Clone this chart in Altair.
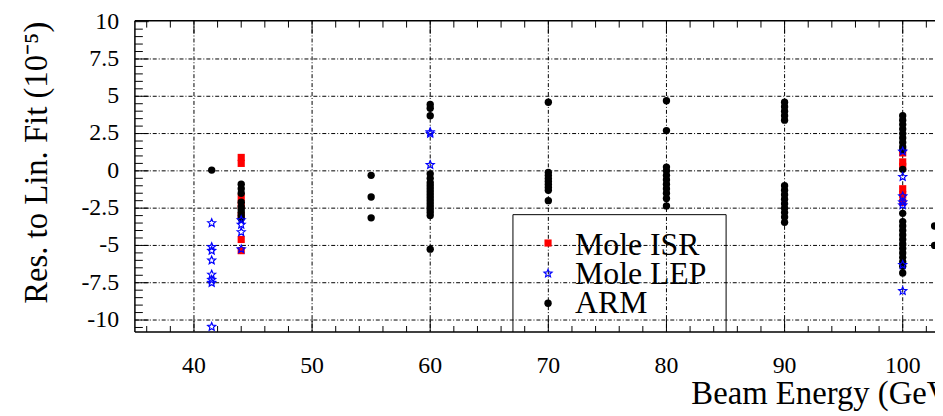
import altair as alt
import pandas as pd

# ---------------- data ----------------
series_names = ["Mole ISR", "Mole LEP", "ARM"]

isr_energy = [44, 44, 44, 44, 44, 44, 44, 100, 100, 100, 100, 100, 100]
isr_res = [0.9, 0.5, -1.8, -2.3, -3.0, -4.6, -5.35, 1.2, 0.6, 0.3, -1.2, -1.6, -2.1]

lep_energy = [41.5, 41.5, 41.5, 41.5, 41.5, 41.5, 41.5, 41.5,
              44, 44, 44, 44,
              60, 60, 60,
              100, 100, 100, 100, 100, 100, 100]
lep_res = [-3.5, -5.1, -5.35, -6.0, -6.95, -7.3, -7.5, -10.45,
           -3.3, -3.6, -4.1, -5.25,
           2.6, 2.5, 0.4,
           1.3, -0.4, -1.7, -2.1, -2.3, -6.3, -8.05]

arm_e415 = [0.05]
arm_e44 = [-0.9, -1.2, -1.5, -2.1, -2.4, -2.6, -2.8, -3.0, -3.2]
arm_e55 = [-0.3, -1.75, -3.15]
arm_e60 = [4.45, 4.2, 3.7, -0.2, -0.5, -0.8, -1.0, -1.2, -1.4, -1.6, -1.8,
           -2.0, -2.2, -2.4, -2.6, -2.8, -3.0, -5.25]
arm_e70 = [4.6, -0.1, -0.3, -0.5, -0.7, -0.9, -1.1, -1.3, -2.0]
arm_e80 = [4.7, 2.7, 0.25, 0.0, -0.3, -0.6, -0.9, -1.2, -1.5, -1.85, -2.35]
arm_e90 = [4.6, 4.3, 4.0, 3.7, 3.4, -1.0, -1.3, -1.6, -1.9, -2.2, -2.5,
           -2.8, -3.1, -3.45]
arm_e100 = [3.7, 3.4, 3.1, 2.8, 2.5, 2.2, 1.9, 1.6, 1.4, 0.1, -2.85, -3.4,
            -3.7, -4.0, -4.3, -4.6, -4.9, -5.2, -5.5, -5.8, -6.1, -6.4, -6.85]
arm_e1027 = [-3.7, -5.0]
arm_energies = [41.5, 44, 55, 60, 70, 80, 90, 100, 102.7]
arm_groups = [arm_e415, arm_e44, arm_e55, arm_e60, arm_e70, arm_e80,
              arm_e90, arm_e100, arm_e1027]

x_ticks = [40, 50, 60, 70, 80, 90, 100]
x_tick_labels = ["40", "50", "60", "70", "80", "90", "100"]
y_ticks = [-10, -7.5, -5, -2.5, 0, 2.5, 5, 7.5, 10]
y_tick_labels = ["-10", "-7.5", "-5", "-2.5", "0", "2.5", "5", "7.5", "10"]
x_minor = [36, 38, 42, 44, 46, 48, 52, 54, 56, 58, 62, 64, 66, 68, 72, 74,
           76, 78, 82, 84, 86, 88, 92, 94, 96, 98, 102]
y_minor = [-10.5, -9.5, -9, -8.5, -8, -7, -6.5, -6, -5.5, -4.5, -4, -3.5,
           -3, -2, -1.5, -1, -0.5, 0.5, 1, 1.5, 2, 3, 3.5, 4, 4.5, 5.5, 6,
           6.5, 7, 8, 8.5, 9, 9.5]

x_title = "Beam Energy (GeV)"
y_title = "Res. to Lin. Fit (10⁻⁵)"

# open five-pointed star as a custom symbol path (unit box -1..1)
STAR = ("M0,-1L0.265,-0.364L0.951,-0.309L0.428,0.139L0.588,0.809L0,0.45"
        "L-0.588,0.809L-0.428,0.139L-0.951,-0.309L-0.265,-0.364Z")

# ---------------- tables ----------------
isr_df = pd.DataFrame({"energy": isr_energy, "res": isr_res})
lep_df = pd.DataFrame({"energy": lep_energy, "res": lep_res})
arm_rows = []
for e, grp in zip(arm_energies, arm_groups):
    for r in grp:
        arm_rows.append({"energy": e, "res": r})
arm_df = pd.DataFrame(arm_rows)

xmaj = pd.DataFrame({"v": x_ticks, "t": x_tick_labels})
xmin = pd.DataFrame({"v": x_minor})
ymaj = pd.DataFrame({"v": y_ticks, "t": y_tick_labels})
ygrid = pd.DataFrame({"v": y_ticks[:-1]})
ymin = pd.DataFrame({"v": y_minor})

W, H = 807, 314
FONT = "Liberation Serif"
PX_PER_GEV = 834 / 70.0

xscale = alt.Scale(domain=[35, 35 + W / PX_PER_GEV], nice=False, zero=False)
yscale = alt.Scale(domain=[-10.8, 10.07], nice=False, zero=False)


def X(field="energy"):
    return alt.X(f"{field}:Q", scale=xscale, axis=None)


def Y(field="res"):
    return alt.Y(f"{field}:Q", scale=yscale, axis=None)


layers = []

# grid (dash-dot)
dash = [4, 2, 1, 2]
layers.append(alt.Chart(xmaj).mark_rule(color="black", strokeWidth=1, strokeDash=dash)
              .encode(x=X("v"), y=alt.value(0), y2=alt.value(H)))
layers.append(alt.Chart(ygrid).mark_rule(color="black", strokeWidth=1, strokeDash=dash)
              .encode(y=Y("v"), x=alt.value(0), x2=alt.value(W)))

# frame (left, top, bottom; the right side lies beyond the window)
frame = pd.DataFrame({"k": [0]})
layers.append(alt.Chart(frame).mark_rule(color="black", strokeWidth=1.5)
              .encode(x=alt.value(0), y=alt.value(0), y2=alt.value(H)))
layers.append(alt.Chart(frame).mark_rule(color="black", strokeWidth=1.5)
              .encode(x=alt.value(0), x2=alt.value(W + 10), y=alt.value(0)))
layers.append(alt.Chart(frame).mark_rule(color="black", strokeWidth=1.5)
              .encode(x=alt.value(0), x2=alt.value(W + 10), y=alt.value(H)))

# ticks (inside the frame)
def tick_layer(data, orient, length):
    base = alt.Chart(data).mark_rule(color="black", strokeWidth=1)
    if orient == "bottom":
        return base.encode(x=X("v"), y=alt.value(H), y2=alt.value(H - length))
    if orient == "top":
        return base.encode(x=X("v"), y=alt.value(0), y2=alt.value(length))
    return base.encode(y=Y("v"), x=alt.value(0), x2=alt.value(length))


layers += [
    tick_layer(xmaj, "bottom", 13), tick_layer(xmin, "bottom", 6),
    tick_layer(xmaj, "top", 13), tick_layer(xmin, "top", 7),
    tick_layer(ymaj, "left", 14), tick_layer(ymin, "left", 8),
]

# tick labels
layers.append(alt.Chart(xmaj).mark_text(font=FONT, fontSize=24, color="black",
                                        align="center", baseline="alphabetic")
              .encode(x=X("v"), y=alt.value(H + 41), text="t:N"))
layers.append(alt.Chart(ymaj).mark_text(font=FONT, fontSize=24, color="black",
                                        align="right", baseline="middle")
              .encode(y=Y("v"), x=alt.value(-16), text="t:N"))

# axis titles
layers.append(alt.Chart(frame).mark_text(font=FONT, fontSize=33, color="black",
                                         align="right", baseline="alphabetic",
                                         text=x_title)
              .encode(x=alt.value(W + 26.6), y=alt.value(H + 73)))
layers.append(alt.Chart(frame).mark_text(font=FONT, fontSize=33, color="black",
                                         align="right", baseline="alphabetic",
                                         angle=270, text=y_title)
              .encode(x=alt.value(-89), y=alt.value(1)))

# data points
layers.append(alt.Chart(isr_df).mark_point(shape="square", filled=True, color="#ff0000",
                                           opacity=1, size=52)
              .encode(x=X(), y=Y()))
layers.append(alt.Chart(arm_df).mark_point(shape="circle", filled=True, color="#000000",
                                           opacity=1, size=55)
              .encode(x=X(), y=Y()))
layers.append(alt.Chart(lep_df).mark_point(shape=STAR, filled=False, color="#0000ff",
                                           opacity=1, size=72, strokeWidth=1.2)
              .encode(x=X(), y=Y()))

# legend (box, markers and labels)
LX0, LX1, LY0 = 381.3, 596.3, 195.7
MX, TX = 416.7, 444
leg_marker_y = [224.3, 255, 285]
leg_text_y = [236, 265.5, 295]
layers.append(alt.Chart(frame).mark_rule(color="black", strokeWidth=1)
              .encode(x=alt.value(LX0), y=alt.value(LY0), y2=alt.value(H)))
layers.append(alt.Chart(frame).mark_rule(color="black", strokeWidth=1)
              .encode(x=alt.value(LX1), y=alt.value(LY0), y2=alt.value(H)))
layers.append(alt.Chart(frame).mark_rule(color="black", strokeWidth=1)
              .encode(x=alt.value(LX0), x2=alt.value(LX1), y=alt.value(LY0)))
leg_styles = [
    dict(shape="square", filled=True, color="#ff0000", size=52),
    dict(shape=STAR, filled=False, color="#0000ff", size=72, strokeWidth=1.2),
    dict(shape="circle", filled=True, color="#000000", size=55),
]
for name, my, ty, st in zip(series_names, leg_marker_y, leg_text_y, leg_styles):
    layers.append(alt.Chart(frame).mark_point(opacity=1, **st)
                  .encode(x=alt.value(MX), y=alt.value(my)))
    layers.append(alt.Chart(frame).mark_text(font=FONT, fontSize=32, color="black",
                                             align="left", baseline="alphabetic",
                                             text=name)
                  .encode(x=alt.value(TX), y=alt.value(ty)))

chart = alt.layer(*layers).properties(
    width=W, height=H,
    autosize=alt.AutoSizeParams(type="none"),
    padding={"left": 128, "top": 11, "right": 0, "bottom": 80},
    background="white",
).configure_view(stroke=None)

chart.save("out.html", embed_options={"renderer": "svg", "actions": False})
